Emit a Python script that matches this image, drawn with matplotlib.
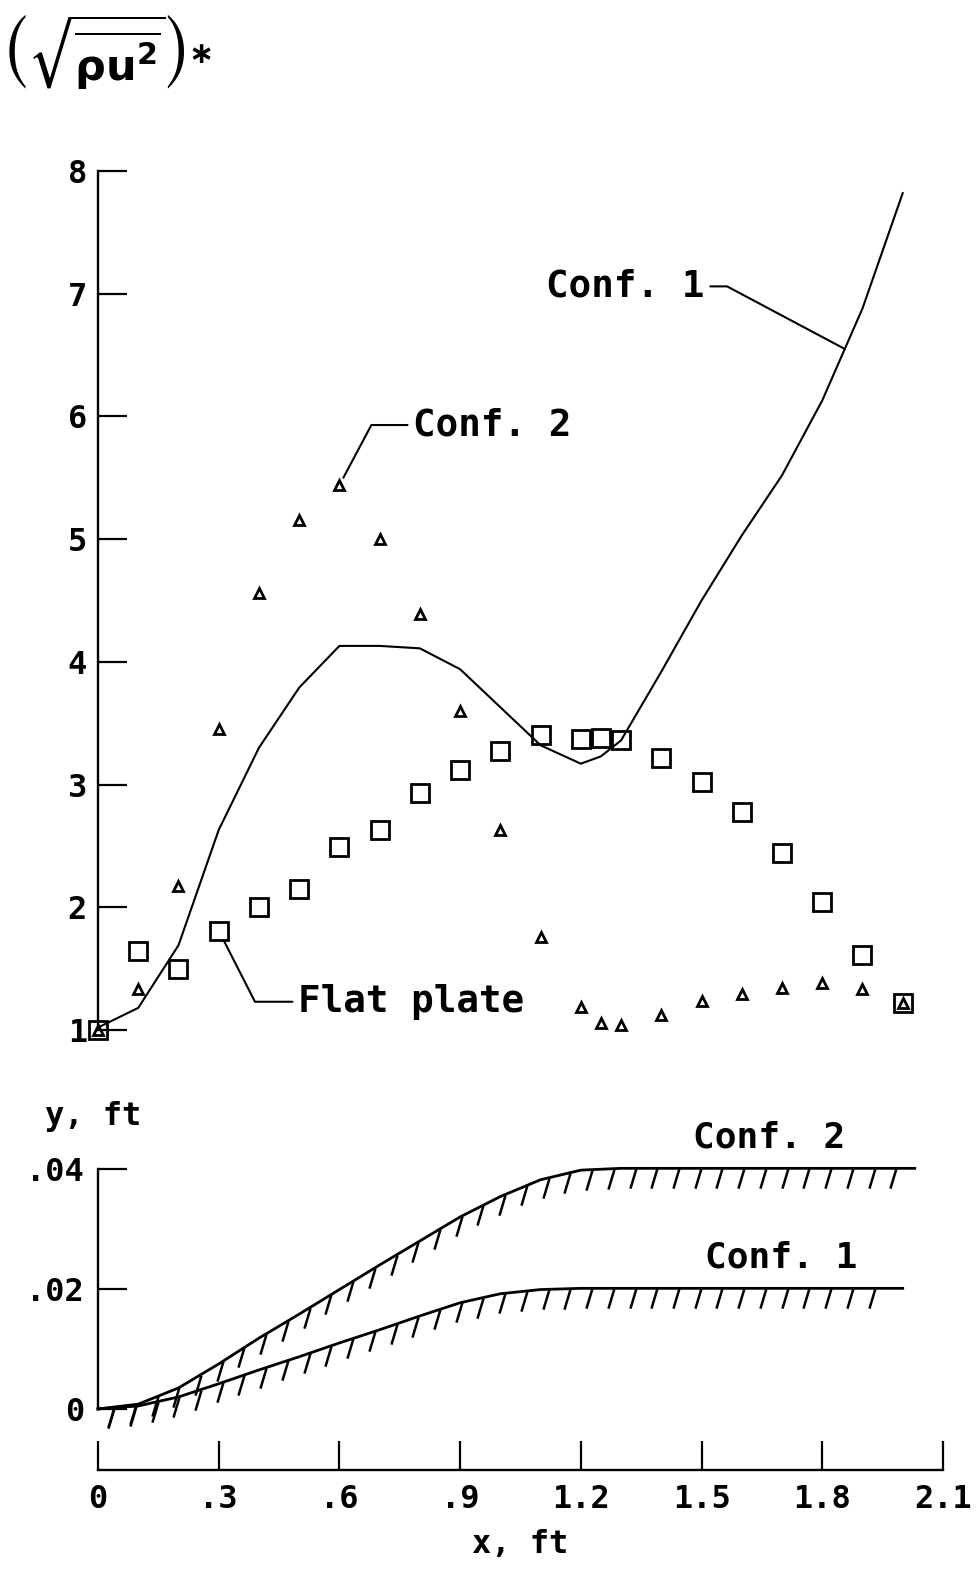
import numpy as np
import matplotlib.pyplot as plt
from matplotlib.path import Path

plt.rcParams['font.family'] = ['DejaVu Sans Mono', 'DejaVu Sans']
plt.rcParams['font.weight'] = 'bold'
plt.rcParams['axes.labelweight'] = 'bold'
plt.rcParams['mathtext.fontset'] = 'dejavusans'

# measuring stations along the plate, ft
station_x = [0, .1, .2, .3, .4, .5, .6, .7, .8, .9, 1.0, 1.1, 1.2, 1.25, 1.3,
             1.4, 1.5, 1.6, 1.7, 1.8, 1.9, 2.0]

# normalised rms mass-flux fluctuation
flat_plate = [1.0, 1.64, 1.50, 1.81, 2.00, 2.15, 2.49, 2.63, 2.93, 3.12, 3.27,
              3.40, 3.37, 3.38, 3.36, 3.22, 3.02, 2.78, 2.44, 2.04, 1.61, 1.22]
conf2_pts = [1.0, 1.33, 2.17, 3.45, 4.56, 5.16, 5.44, 5.00, 4.39, 3.60, 2.63,
             1.76, 1.19, 1.06, 1.04, 1.12, 1.24, 1.29, 1.34, 1.38, 1.33, 1.22]
conf1_curve = [1.02, 1.18, 1.69, 2.63, 3.30, 3.79, 4.13, 4.13, 4.11, 3.94, 3.63,
               3.32, 3.17, 3.23, 3.36, 3.92, 4.50, 5.03, 5.52, 6.13, 6.88, 7.82]

# wall shapes, ft
wall2_x = [0, .1, .2, .3, .4, .5, .6, .7, .8, .9, 1.0, 1.1, 1.2, 1.3, 2.03]
wall2_y = [0, .0008, .0035, .0075, .0118, .0158, .0199, .0240, .0280, .0320,
           .0354, .0382, .0398, .0401, .0401]
wall1_x = [0, .1, .2, .3, .4, .5, .6, .7, .8, .9, 1.0, 1.1, 1.2, 2.0]
wall1_y = [0, .0005, .002, .0042, .0065, .0087, .0110, .0132, .0155, .0177,
           .0192, .0199, .0201, .0201]

x_ticks = [0, .3, .6, .9, 1.2, 1.5, 1.8, 2.1]
x_ticklabels = ['0', '.3', '.6', '.9', '1.2', '1.5', '1.8', '2.1']
u_ticks = [1, 2, 3, 4, 5, 6, 7, 8]
y_ticks = [0, .02, .04]
y_ticklabels = ['0', '.02', '.04']

fig = plt.figure(figsize=(9.8, 15.72), dpi=100)
ax1 = fig.add_axes([0.1, 0.3448, 0.8622, 0.5464])
ax2 = fig.add_axes([0.1, 0.0649, 0.8622, 0.1915])

tick_kw = dict(direction='in', length=21, width=1.6, labelsize=23)

# --- upper plot
ax1.plot(station_x, conf1_curve, color='black', lw=1.5, clip_on=False)
ax1.plot(station_x, flat_plate, ls='none', marker='s', ms=13, mfc='none',
         mec='black', mew=2.0, clip_on=False)
ax1.plot(station_x, conf2_pts, ls='none', marker='^', ms=7.5, mfc='none',
         mec='black', mew=2.0, clip_on=False)
ax1.set_xlim(0, 2.1)
ax1.set_ylim(1, 8)
ax1.set_yticks(u_ticks)
ax1.tick_params(axis='y', pad=8, **tick_kw)
ax1.set_xticks([])
for s in ['top', 'right', 'bottom']:
    ax1.spines[s].set_visible(False)
ax1.spines['left'].set_linewidth(1.7)

lead = dict(arrowstyle='-', color='black', lw=1.5, shrinkA=2)
x_c1 = 1.856
ax1.annotate('Conf. 1', xy=(x_c1, np.interp(x_c1, station_x, conf1_curve)),
             xytext=(1.508, 7.06), ha='right', va='center', fontsize=27,
             arrowprops=dict(relpos=(1, 0.5), shrinkB=0,
                             connectionstyle='angle,angleA=0,angleB=-28,rad=0',
                             **lead))
ax1.annotate('Conf. 2', xy=(station_x[6], conf2_pts[6]),
             xytext=(0.783, 5.93), ha='left', va='center', fontsize=27,
             arrowprops=dict(relpos=(0, 0.5), shrinkB=6,
                             connectionstyle='angle,angleA=0,angleB=62,rad=0',
                             **lead))
ax1.annotate('Flat plate', xy=(station_x[3], flat_plate[3]),
             xytext=(0.497, 1.23), ha='left', va='center', fontsize=27,
             arrowprops=dict(relpos=(0, 0.5), shrinkB=9,
                             connectionstyle='angle,angleA=0,angleB=117,rad=0',
                             **lead))

# --- lower plot: wall contours with hatching on the solid side
hatch = Path([(0, 0), (-0.3, -1)], [Path.MOVETO, Path.LINETO])
for wx, wy, end in [(wall2_x, wall2_y, 1.99), (wall1_x, wall1_y, 1.98)]:
    ax2.plot(wx, wy, color='black', lw=2.0, clip_on=False)
    hx = np.arange(0.04, end, 0.054)
    ax2.plot(hx, np.interp(hx, wx, wy), ls='none', marker=hatch, ms=29,
             mec='black', mew=1.8, clip_on=False)

ax2.text(1.479, 0.0453, 'Conf. 2', ha='left', va='center', fontsize=26)
ax2.text(1.508, 0.0252, 'Conf. 1', ha='left', va='center', fontsize=26)

ax2.set_xlim(0, 2.1)
ax2.set_ylim(-0.01017, 0.04)
ax2.set_xticks(x_ticks)
ax2.set_xticklabels(x_ticklabels)
ax2.set_yticks(y_ticks)
ax2.set_yticklabels(y_ticklabels)
ax2.tick_params(axis='x', pad=10, **tick_kw)
ax2.tick_params(axis='y', pad=10, **tick_kw)
for s in ['top', 'right']:
    ax2.spines[s].set_visible(False)
ax2.spines['left'].set_bounds(0, 0.04)
ax2.spines['left'].set_linewidth(1.7)
ax2.spines['bottom'].set_linewidth(1.7)
ax2.set_xlabel('x, ft', fontsize=23, labelpad=10)

fig.text(0.046, 0.2895, 'y, ft', fontsize=23, va='center')
fig.text(0.004, 0.992,
         r'$\left(\sqrt{\overline{\mathrm{\rho u}^{2}}}\right)^{\ast}$',
         fontsize=31, va='top', ha='left')

fig.savefig('out.png', dpi=100, facecolor='white')
